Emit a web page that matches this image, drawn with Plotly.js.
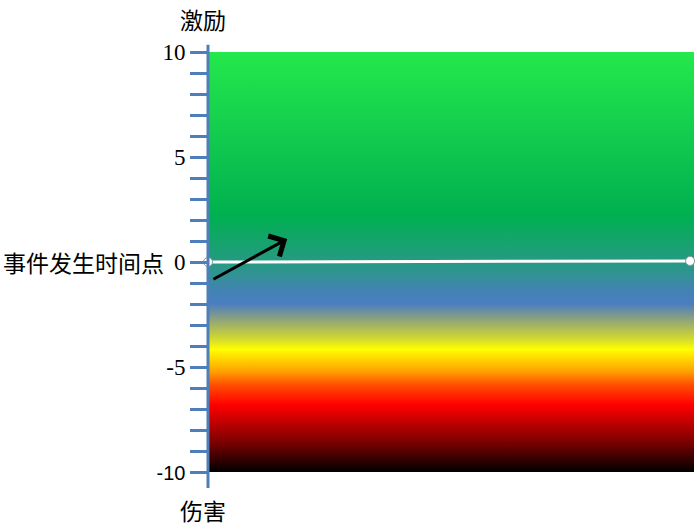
<!DOCTYPE html>
<html>
<head>
<meta charset="utf-8">
<script src="https://cdn.plot.ly/plotly-3.0.1.min.js"></script>
<style>html,body{margin:0;padding:0;background:#fff;}#chart{width:697px;height:529px;}</style>
</head>
<body>
<div id="chart"></div>
<script>
// ---- data ----
var tickValues = [10,9,8,7,6,5,4,3,2,1,0,-1,-2,-3,-4,-5,-6,-7,-8,-9,-10];
var tickLabels = ['10','','','','','5','','','','','0','','','','','-5','','','','','-10'];
var fieldX = [0, 100, 100, 0];
var fieldY = [-10, -10, 10, 10];
var gradStops  = [0, 0.07, 0.16, 0.208, 0.239, 0.292, 0.318, 0.366, 0.40, 0.43, 0.474, 0.61, 1];
var gradColors = ['#000000', '#7a0000', '#ff0000', '#ff5000', '#ffa000', '#ffff00', '#d0d830',
                  '#8aa080', '#4a7ec0', '#4382b4', '#2f9490', '#00b050', '#24e84c'];
var eventX = [0, 99.2];
var eventY = [0, 0.05];
var arrowTail = [0.8, -0.86];
var arrowHead = [16.3, 1.1];
var topLabel = '激励';
var bottomLabel = '伤害';
var eventLabel = '事件发生时间点';

var axisColor = '#4f7fba';
var colorscale = gradStops.map(function(s, i){ return [s, gradColors[i]]; });
var tickText = tickLabels.map(function(t){
  return t === '-10' ? '<span style="font-family:Liberation Sans, Arial, sans-serif;font-size:20px">' + t + '</span>' : t;
});

var traces = [
  {
    type: 'scatter', mode: 'none',
    x: fieldX, y: fieldY, fill: 'toself',
    fillgradient: {type: 'vertical', colorscale: colorscale, start: -10, stop: 10},
    hoverinfo: 'skip', showlegend: false
  },
  {
    type: 'scatter', mode: 'lines+markers',
    x: eventX, y: eventY,
    line: {color: '#ffffff', width: 3},
    marker: {size: 9, color: '#ffffff', line: {color: '#8c9c9c', width: 1}},
    cliponaxis: false, showlegend: false, hoverinfo: 'skip'
  }
];

var layout = {
  width: 697, height: 529,
  margin: {l: 208, r: 3, t: 52, b: 57},
  paper_bgcolor: '#ffffff', plot_bgcolor: '#ffffff',
  showlegend: false,
  xaxis: {range: [0, 100], visible: false, fixedrange: true},
  yaxis: {
    range: [-10, 10], showgrid: false, zeroline: false, showline: false,
    tickmode: 'array', tickvals: tickValues, ticktext: tickText,
    ticks: 'outside', ticklen: 17, tickwidth: 3, tickcolor: axisColor,
    tickfont: {family: 'Liberation Serif, Times New Roman, serif', size: 23, color: '#000000'}
  },
  shapes: [
    {type: 'line', xref: 'paper', yref: 'paper', x0: 0, x1: 0, y0: -0.038, y1: 1.017,
     line: {color: axisColor, width: 3}, layer: 'above'}
  ],
  annotations: [
    {xref: 'x', yref: 'y', axref: 'x', ayref: 'y',
     x: arrowHead[0], y: arrowHead[1], ax: arrowTail[0], ay: arrowTail[1],
     showarrow: true, arrowhead: 4, arrowsize: 1.5, arrowwidth: 3, arrowcolor: '#000000', text: ''},
    {xref: 'paper', yref: 'paper', x: -0.01, y: 1.078, xanchor: 'center', yanchor: 'middle',
     text: topLabel, showarrow: false,
     font: {family: 'Noto Sans CJK SC, sans-serif', size: 23, color: '#000000'}},
    {xref: 'paper', yref: 'paper', x: -0.01, y: -0.09, xanchor: 'center', yanchor: 'middle',
     text: bottomLabel, showarrow: false,
     font: {family: 'Noto Sans CJK SC, sans-serif', size: 23, color: '#000000'}},
    {xref: 'paper', yref: 'y', x: -0.087, y: 0, xanchor: 'right', yanchor: 'middle',
     text: eventLabel, showarrow: false,
     font: {family: 'Noto Sans CJK SC, sans-serif', size: 23, color: '#000000'}}
  ]
};

Plotly.newPlot('chart', traces, layout, {displayModeBar: false, staticPlot: true});
</script>
</body>
</html>
